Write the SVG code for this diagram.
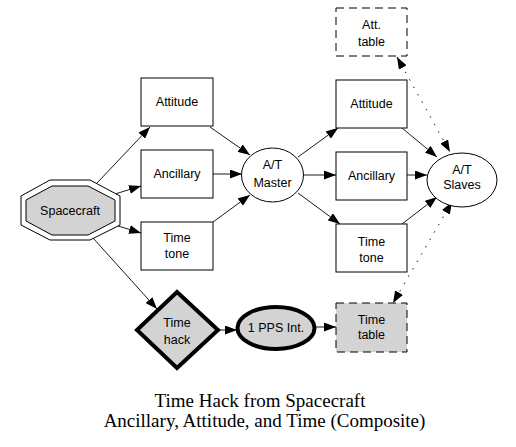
<svg xmlns="http://www.w3.org/2000/svg" width="516" height="447" viewBox="0 0 516 447">
<style>
.n{fill:#fff;stroke:#000;stroke-width:1}
.g{fill:#d3d3d3}
.thick{stroke-width:4}
.dash{stroke-dasharray:8,5}
.t{font-family:"Liberation Sans",Arial,sans-serif;font-size:12.5px;text-anchor:middle;fill:#000}
.e{fill:none;stroke:#000;stroke-width:0.9}
.dot{stroke-dasharray:1.5,7}
.title{font-family:"Liberation Serif","Times New Roman",serif;font-size:19px;text-anchor:middle;fill:#000}
</style>
<defs>
<marker id="a" markerUnits="userSpaceOnUse" markerWidth="12" markerHeight="9" refX="12" refY="4.5" orient="auto-start-reverse">
<path d="M0,0 L12,4.5 L0,9 z" fill="#000"/>
</marker>
</defs>
<rect width="516" height="447" fill="#fff"/>
<g id="connectors">
<line class="e" x1="97" y1="183" x2="150" y2="127" marker-end="url(#a)"/>
<line class="e" x1="115" y1="194" x2="141" y2="186" marker-end="url(#a)"/>
<line class="e" x1="115" y1="225" x2="141" y2="233" marker-end="url(#a)"/>
<line class="e" x1="93" y1="238" x2="157" y2="309" marker-end="url(#a)"/>
<line class="e" x1="220" y1="330" x2="237" y2="330" marker-end="url(#a)"/>
<line class="e" x1="316" y1="327" x2="336" y2="327" marker-end="url(#a)"/>
<line class="e" x1="210" y1="127" x2="250" y2="155" marker-end="url(#a)"/>
<line class="e" x1="213" y1="174" x2="242" y2="174" marker-end="url(#a)"/>
<line class="e" x1="213" y1="222" x2="250" y2="195" marker-end="url(#a)"/>
<line class="e" x1="298" y1="157" x2="338" y2="128" marker-end="url(#a)"/>
<line class="e" x1="304" y1="175" x2="336" y2="175" marker-end="url(#a)"/>
<line class="e" x1="298" y1="193" x2="340" y2="224" marker-end="url(#a)"/>
<line class="e" x1="402" y1="128" x2="437" y2="157" marker-end="url(#a)"/>
<line class="e" x1="407" y1="175" x2="427" y2="175" marker-end="url(#a)"/>
<line class="e" x1="402" y1="224" x2="437" y2="197" marker-end="url(#a)"/>
<line class="e dot" x1="397" y1="57" x2="450" y2="152" marker-start="url(#a)" marker-end="url(#a)"/>
<line class="e dot" x1="452" y1="202" x2="393" y2="303" marker-start="url(#a)" marker-end="url(#a)"/>
</g>
<g id="spacecraft">
<polygon class="n" points="50,180 90,180 120,196 120,225 90,240 50,240 21,225 21,196"/>
<polygon class="n g" points="52,186 88,186 115,200 115,221 88,235 52,235 26,221 26,200"/>
<text class="t" x="70" y="215">Spacecraft</text>
</g>
<g id="attitude1">
<rect class="n" x="141" y="78" width="72" height="48"/>
<text class="t" x="177" y="106">Attitude</text>
</g>
<g id="ancillary1">
<rect class="n" x="141" y="150" width="72" height="48"/>
<text class="t" x="177" y="178">Ancillary</text>
</g>
<g id="timetone1">
<rect class="n" x="141" y="222" width="72" height="48"/>
<text class="t" x="177" y="242">Time</text>
<text class="t" x="177" y="258">tone</text>
</g>
<g id="master">
<ellipse class="n" cx="272.5" cy="175" rx="31" ry="27"/>
<text class="t" x="272.5" y="169">A/T</text>
<text class="t" x="272.5" y="187">Master</text>
</g>
<g id="attitude2">
<rect class="n" x="336" y="80" width="71" height="48"/>
<text class="t" x="371.5" y="108">Attitude</text>
</g>
<g id="ancillary2">
<rect class="n" x="336" y="152" width="71" height="48"/>
<text class="t" x="371.5" y="180">Ancillary</text>
</g>
<g id="timetone2">
<rect class="n" x="336" y="224" width="71" height="48"/>
<text class="t" x="371.5" y="246">Time</text>
<text class="t" x="371.5" y="262">tone</text>
</g>
<g id="atttable">
<rect class="n dash" x="336" y="8" width="71" height="48"/>
<text class="t" x="371.5" y="29">Att.</text>
<text class="t" x="371.5" y="46">table</text>
</g>
<g id="slaves">
<ellipse class="n" cx="462" cy="180" rx="35" ry="27"/>
<text class="t" x="462" y="174">A/T</text>
<text class="t" x="462" y="189">Slaves</text>
</g>
<g id="timehack">
<polygon class="n g thick" points="177,292 218,330 177,368 137,330" stroke-linejoin="miter"/>
<text class="t" x="177" y="327">Time</text>
<text class="t" x="177" y="344">hack</text>
</g>
<g id="pps">
<ellipse class="n g thick" cx="276" cy="328" rx="38.5" ry="21"/>
<text class="t" x="276" y="332">1 PPS Int.</text>
</g>
<g id="timetable">
<rect class="n g dash" x="336" y="303" width="71" height="49"/>
<text class="t" x="371.5" y="324">Time</text>
<text class="t" x="371.5" y="339">table</text>
</g>
<g id="title">
<text class="title" x="260" y="407">Time Hack from Spacecraft</text>
<text class="title" x="264.5" y="427">Ancillary, Attitude, and Time (Composite)</text>
</g>
</svg>
